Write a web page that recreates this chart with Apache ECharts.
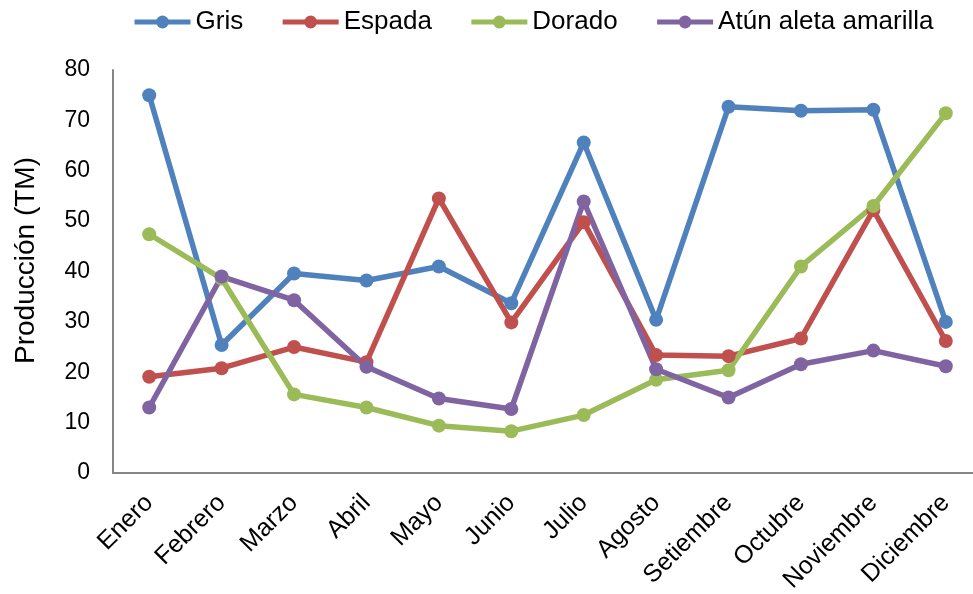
<!DOCTYPE html>
<html>
<head>
<meta charset="utf-8">
<script src="https://cdn.jsdelivr.net/npm/echarts@6/dist/echarts.min.js"></script>
<style>html,body{margin:0;padding:0;background:#fff;}#c{width:973px;height:594px;}</style>
</head>
<body>
<div id="c"></div>
<script>
const categories = ['Enero','Febrero','Marzo','Abril','Mayo','Junio','Julio','Agosto','Setiembre','Octubre','Noviembre','Diciembre'];
const gris   = [75.0, 25.4, 39.6, 38.2, 41.0, 33.7, 65.6, 30.4, 72.7, 71.9, 72.1, 30.0];
const espada = [19.1, 20.8, 25.0, 22.0, 54.5, 29.9, 49.8, 23.4, 23.2, 26.7, 52.2, 26.2];
const dorado = [47.4, 38.6, 15.6, 13.0, 9.4, 8.3, 11.5, 18.5, 20.4, 41.0, 53.0, 71.4];
const atun   = [13.0, 39.0, 34.3, 21.1, 14.8, 12.7, 53.9, 20.6, 15.0, 21.6, 24.3, 21.2];
const seriesNames = ['Gris','Espada','Dorado','Atún aleta amarilla'];
const yTicks = {min: 0, max: 80, interval: 10};

const colors = ['#4F81BD','#C0504D','#9BBB59','#8064A2'];
const font = 'Liberation Sans, Arial, sans-serif';
const datasets = [gris, espada, dorado, atun];

const chart = echarts.init(document.getElementById('c'), null, {renderer: 'canvas'});
chart.setOption({
  animation: false,
  color: colors,
  legend: {
    top: 4, left: 127,
    itemWidth: 56, itemHeight: 16, itemGap: 37,
    lineStyle: {width: 5},
    textStyle: {fontFamily: font, fontSize: 26, color: '#000'},
    data: seriesNames
  },
  grid: {left: 113, right: -9, top: 70, bottom: 121, containLabel: false, outerBoundsMode: 'none'},
  xAxis: {
    type: 'category', data: categories, boundaryGap: true,
    axisLine: {lineStyle: {color: '#868686', width: 2}},
    axisTick: {show: false},
    axisLabel: {rotate: 45, margin: 26, fontFamily: font, fontSize: 25, color: '#000', interval: 0}
  },
  yAxis: {
    type: 'value', min: yTicks.min, max: yTicks.max, interval: yTicks.interval,
    name: 'Producción (TM)', nameLocation: 'middle', nameGap: 73,
    nameTextStyle: {fontFamily: font, fontSize: 28, color: '#000', padding: [0,0,0,22]},
    axisLine: {show: true, lineStyle: {color: '#868686', width: 2}},
    axisTick: {show: false},
    splitLine: {show: false},
    axisLabel: {margin: 23, fontFamily: font, fontSize: 23, color: '#000'}
  },
  series: seriesNames.map((n, i) => ({
    name: n, type: 'line', data: datasets[i],
    symbol: 'circle', symbolSize: 14,
    lineStyle: {width: 5.5},
    itemStyle: {color: colors[i]}
  }))
});
</script>
</body>
</html>
